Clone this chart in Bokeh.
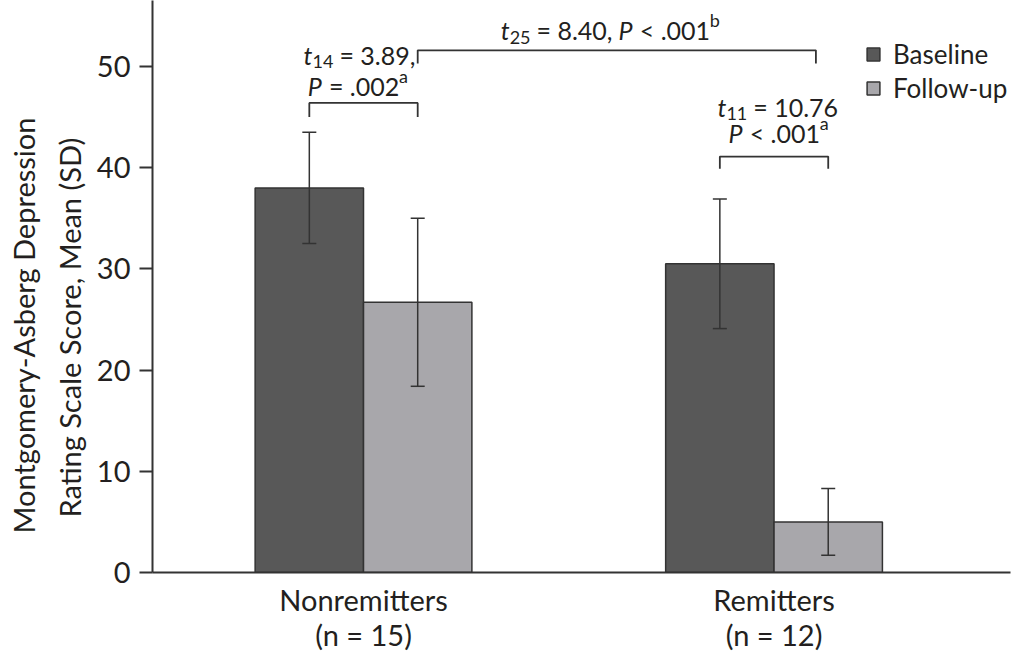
from bokeh.plotting import figure
from bokeh.models import (ColumnDataSource, Range1d, Whisker, TeeHead, Label,
                          FixedTicker, Legend, LegendItem, LinearAxis, Title)
from bokeh.embed import file_html
from bokeh.resources import INLINE

# ---------------- data ----------------
groups = ["Nonremitters", "Remitters"]
group_n = [15, 12]
series = ["Baseline", "Follow-up"]
baseline_mean = [38.0, 30.5]
baseline_sd = [5.5, 6.4]
followup_mean = [26.7, 5.0]
followup_sd = [8.3, 3.3]
y_ticks = [0, 10, 20, 30, 40, 50]
y_title = ["Montgomery-Asberg Depression", "Rating Scale Score, Mean (SD)"]

# statistical tests: (df, t, relation, p, footnote)
within_nonremit = ("14", "3.89", "=", ".002", "a")
within_remit = ("11", "10.76", "<", ".001", "a")
between_groups = ("25", "8.40", "<", ".001", "b")

# ---------------- style ----------------
FONT = "Lato"
TXT = "#231f20"
EDGE = "#333333"
COLORS = ["#585858", "#a8a7ab"]
BW = 0.264

p = figure(width=1018, height=658, output_backend="svg", toolbar_location=None,
           x_range=Range1d(-0.514, 1.576), y_range=Range1d(0, 56.52),
           min_border_left=152, min_border_right=8, min_border_top=0,
           min_border_bottom=86)
p.outline_line_color = None
p.grid.grid_line_color = None
p.background_fill_color = "white"

gx = list(range(len(groups)))
src_b = ColumnDataSource(dict(x=[g - BW / 2 for g in gx], top=baseline_mean,
                              upper=[m + s for m, s in zip(baseline_mean, baseline_sd)],
                              lower=[m - s for m, s in zip(baseline_mean, baseline_sd)]))
src_f = ColumnDataSource(dict(x=[g + BW / 2 for g in gx], top=followup_mean,
                              upper=[m + s for m, s in zip(followup_mean, followup_sd)],
                              lower=[m - s for m, s in zip(followup_mean, followup_sd)]))

rb = p.vbar(x="x", top="top", bottom=0, width=BW, source=src_b,
            fill_color=COLORS[0], line_color=EDGE, line_width=1.5)
rf = p.vbar(x="x", top="top", bottom=0, width=BW, source=src_f,
            fill_color=COLORS[1], line_color=EDGE, line_width=1.5)

for src in (src_b, src_f):
    p.add_layout(Whisker(source=src, base="x", upper="upper", lower="lower",
                         level="overlay", line_color=EDGE, line_width=1.5,
                         upper_head=TeeHead(size=14, line_color=EDGE, line_width=1.5),
                         lower_head=TeeHead(size=14, line_color=EDGE, line_width=1.5)))

# y axis
p.yaxis.ticker = FixedTicker(ticks=y_ticks)
p.yaxis.major_tick_out = 13
p.yaxis.major_tick_in = 0
p.yaxis.minor_tick_line_color = None
p.yaxis.major_label_standoff = 9

# x axis: group names, plus a second axis below for the sample sizes
p.xaxis.ticker = FixedTicker(ticks=gx)
p.xaxis.major_label_overrides = {g: name for g, name in zip(gx, groups)}
p.xaxis.major_tick_line_color = None
p.xaxis.minor_tick_line_color = None
p.xaxis.major_label_standoff = 3

nax = LinearAxis(ticker=FixedTicker(ticks=gx),
                 major_label_overrides={g: f"(n = {n})" for g, n in zip(gx, group_n)},
                 axis_line_color=None, major_tick_line_color=None,
                 minor_tick_line_color=None, major_label_standoff=-9)
p.add_layout(nax, "below")

for ax in (p.xaxis[0], p.yaxis[0], nax):
    ax.major_label_text_font = FONT
    ax.major_label_text_font_size = "29px"
    ax.major_label_text_color = TXT
for ax in (p.xaxis[0], p.yaxis[0]):
    ax.axis_line_width = 2
    ax.axis_line_color = EDGE
p.yaxis.major_tick_line_color = EDGE
p.yaxis.major_tick_line_width = 2

# y axis title: two lines, as two stacked left-side titles
for line, off, so in reversed(list(zip(y_title, [39, 55], [5, 13]))):
    p.add_layout(Title(text=line, align="left", offset=off, standoff=so,
                       text_font=FONT, text_font_size="29px",
                       text_font_style="normal", text_color=TXT), "left")

# legend
legend = Legend(items=[LegendItem(label=series[0], renderers=[rb]),
                       LegendItem(label=series[1], renderers=[rf])],
                location=(713, 468), padding=0, margin=0, spacing=2,
                glyph_width=16, glyph_height=16, label_standoff=12,
                label_text_font=FONT, label_text_font_size="26px",
                label_text_color=TXT, border_line_color=None,
                background_fill_alpha=0)
p.add_layout(legend, "center")

# brackets
def bracket(x0, x1, ytop, ybot):
    p.line([x0, x0, x1, x1], [ybot, ytop, ytop, ybot], line_color=EDGE, line_width=1.8)

bracket(gx[0] - BW / 2, gx[0] + BW / 2, 46.4, 45.0)
bracket(gx[1] - BW / 2, gx[1] + BW / 2, 41.1, 39.9)
bracket(gx[0] + BW / 2, gx[1] + BW / 2 - 0.03, 51.6, 50.3)

# rich text helper (subscripts / superscripts / italics)
W_EM = {" ": 0.24, ".": 0.24, ",": 0.24, "=": 0.58, "<": 0.58, "P": 0.61,
        "t": 0.36, "a": 0.52, "b": 0.57}
for d in "0123456789":
    W_EM[d] = 0.58
MAIN, SMALL = 25, 18

def tw(s, size):
    return sum(W_EM.get(c, 0.55) for c in s) * size

def rich(x, y, pieces):
    off = 0.0
    for txt, style, kind in pieces:
        size = MAIN if kind == "n" else SMALL
        lead = len(txt) - len(txt.lstrip(" "))
        off += tw(txt[:lead], size)
        body = txt.strip(" ")
        dy = {"n": 0, "sub": -7, "sup": 10}[kind]
        p.add_layout(Label(x=x, y=y, x_offset=off, y_offset=dy, text=body,
                           text_font=FONT, text_font_size=f"{size}px",
                           text_font_style=style, text_color=TXT,
                           text_align="left", text_baseline="alphabetic"))
        off += tw(txt[lead:], size)

df, tv, rel, pv, fn = between_groups
rich(0.334, 53.6, [("t", "italic", "n"), (df, "normal", "sub"),
                   (f" = {tv}, ", "normal", "n"), ("P", "italic", "n"),
                   (f" {rel} {pv}", "normal", "n"), (fn, "normal", "sup")])
df, tv, rel, pv, fn = within_nonremit
rich(-0.146, 51.15, [("t", "italic", "n"), (df, "normal", "sub"), (f" = {tv},", "normal", "n")])
rich(-0.136, 48.05, [("P", "italic", "n"), (f" {rel} {pv}", "normal", "n"), (fn, "normal", "sup")])
df, tv, rel, pv, fn = within_remit
rich(0.862, 46.0, [("t", "italic", "n"), (df, "normal", "sub"), (f" = {tv}", "normal", "n")])
rich(0.889, 43.45, [("P", "italic", "n"), (f" {rel} {pv}", "normal", "n"), (fn, "normal", "sup")])

open("out.html", "w").write(file_html(p, INLINE))
